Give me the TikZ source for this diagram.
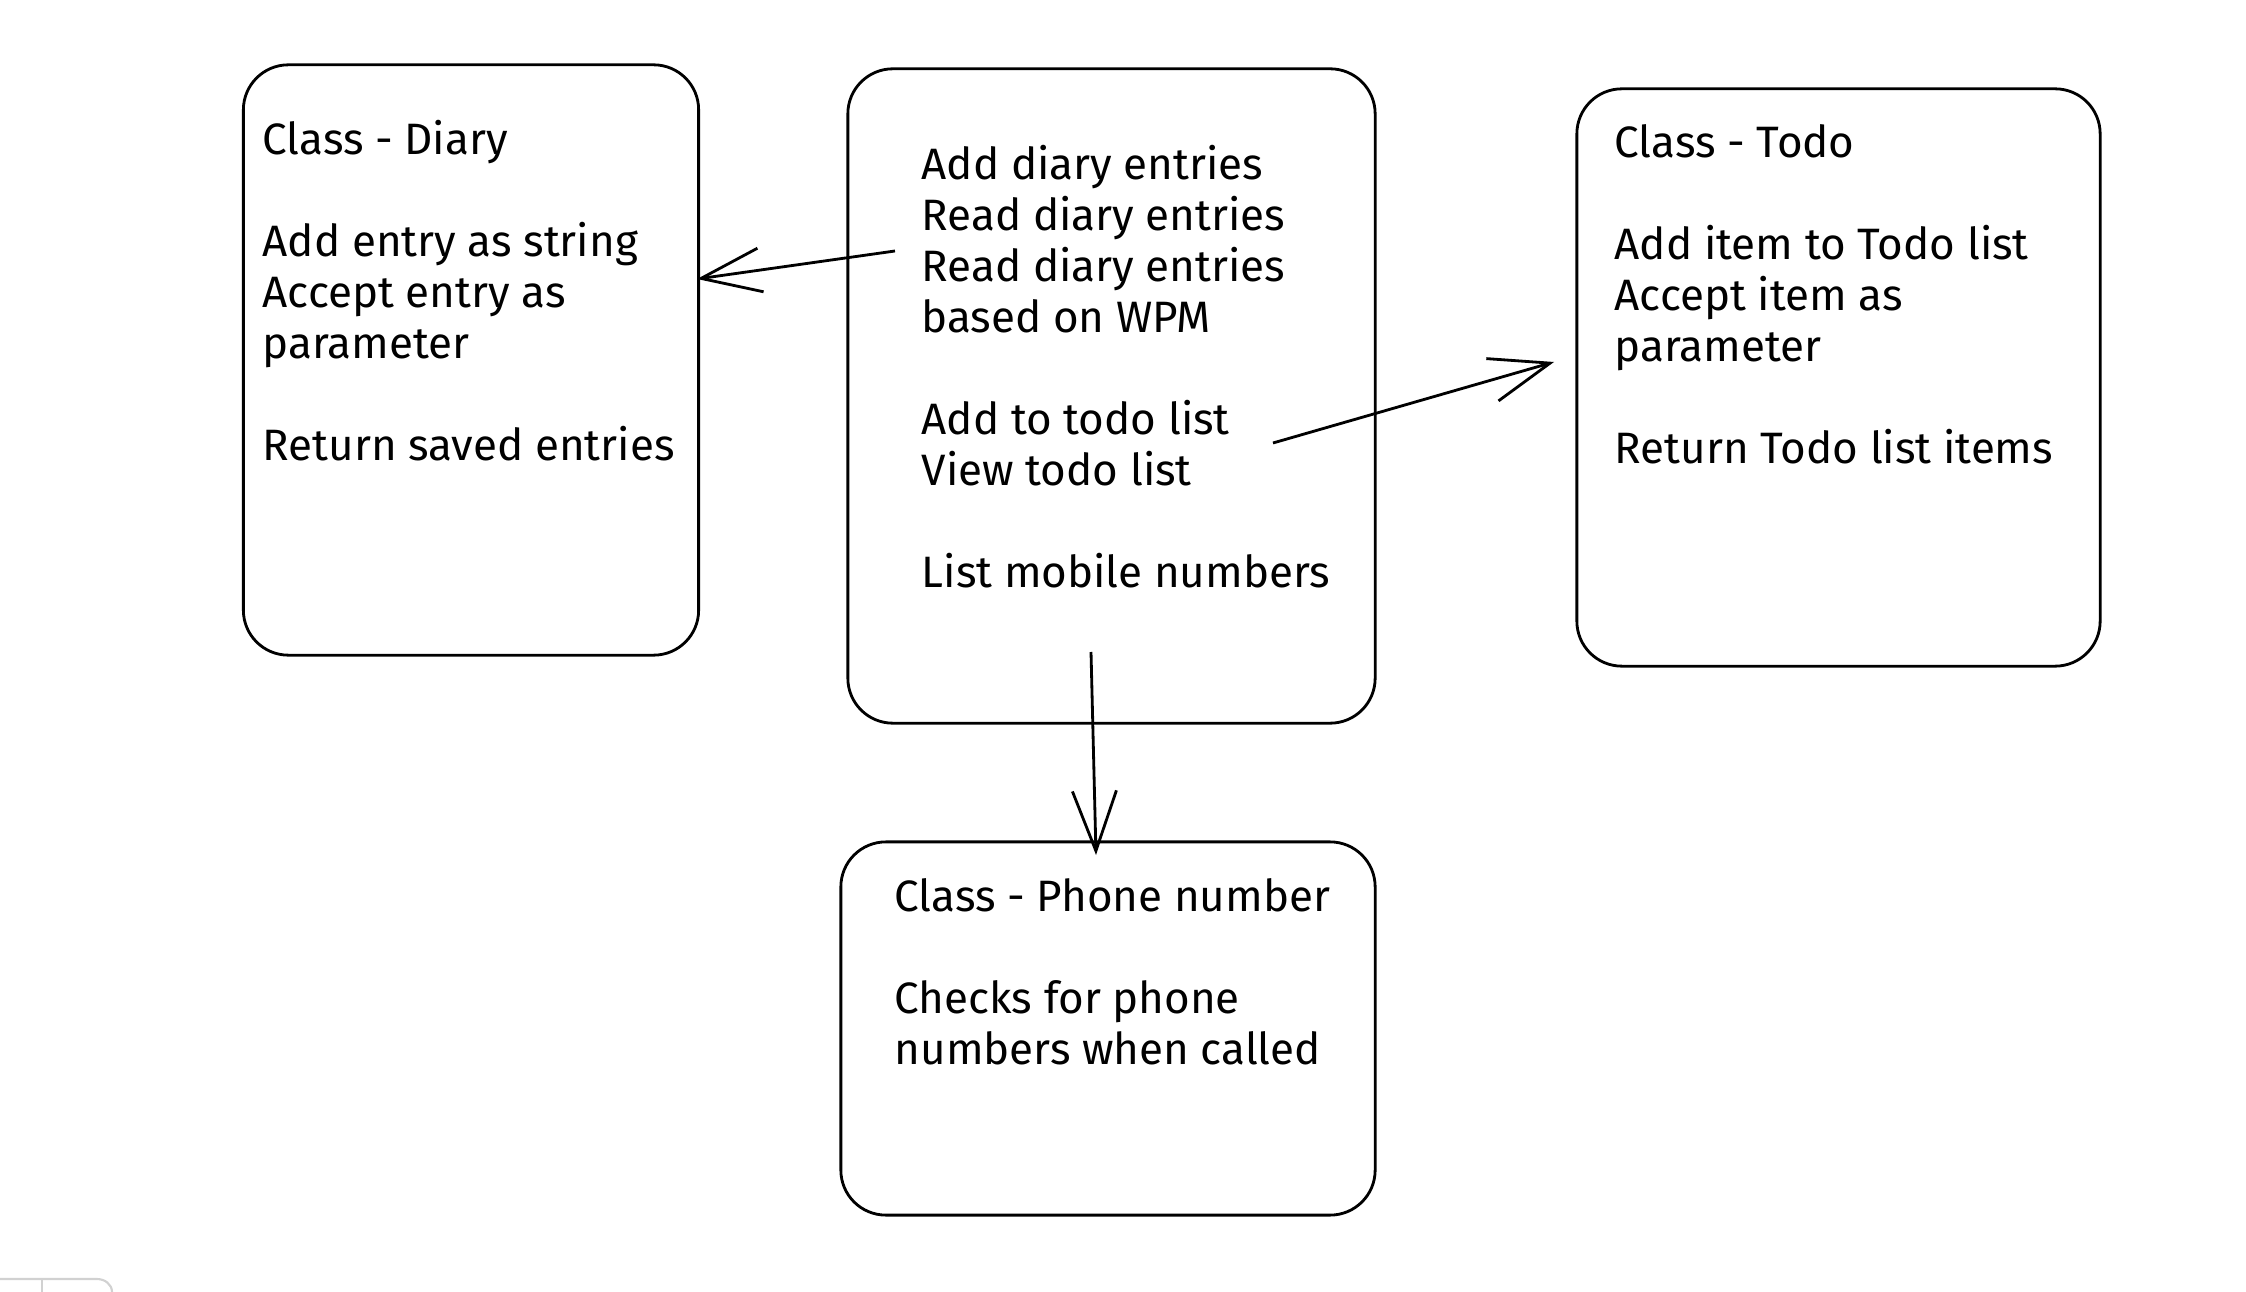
\documentclass[tikz,border=0pt]{standalone}
\usepackage{fontspec}
\setmainfont{Fira Sans}
\usetikzlibrary{arrows.meta}
\begin{document}
\begin{tikzpicture}[x=0.01cm,y=-0.01cm,
  box/.style={draw, line width=0.8pt, rounded corners=0.45cm, inner sep=0pt},
  txt/.style={anchor=north west, align=left, inner sep=0pt, font=\fontsize{12.5}{14.5}\selectfont},
  arr/.style={line width=0.8pt, -{Straight Barb[length=0.6cm,width=0.44cm]}},
  ui/.style={draw=black!18, line width=0.6pt}]
\useasboundingbox[fill=white] (0,0) rectangle (2246,1292);

% boxes
\node[box, minimum width=4.55cm, minimum height=5.90cm] (diary) at (471,360) {};
\node[box, minimum width=5.27cm, minimum height=6.54cm] (main) at (1111.5,396) {};
\node[box, minimum width=5.23cm, minimum height=5.77cm] (todo) at (1838.5,377.5) {};
\node[box, minimum width=5.34cm, minimum height=3.73cm] (phone) at (1108,1028.5) {};

% texts
\node[txt] (tdiary) at (262,120) {Class - Diary\\[14.5pt]Add entry as string\\Accept entry as\\parameter\\[14.5pt]Return saved entries};
\node[txt] (tmain) at (921,145) {Add diary entries\\Read diary entries\\Read diary entries\\based on WPM\\[14.5pt]Add to todo list\\View todo list\\[14.5pt]List mobile numbers};
\node[txt] (ttodo) at (1614,124) {Class - Todo\\[14.5pt]Add item to Todo list\\Accept item as\\parameter\\[14.5pt]Return Todo list items};
\node[txt] (tphone) at (894,878) {Class - Phone number\\[14.5pt]Checks for phone\\numbers when called};

% connector end points
\coordinate (s1) at (895,251);
\coordinate (e1) at (697,279);
\coordinate (s2) at (1273,443);
\coordinate (e2) at (1554,362);
\coordinate (s3) at (1091,652);
\coordinate (e3) at (1096,855);

\draw[arr] (s1) -- (e1);
\draw[arr] (s2) -- (e2);
\draw[arr] (s3) -- (e3);

% faint UI element at bottom left
\draw[ui] (0,1279) -- (97,1279) to[out=0,in=90] (112,1292);
\draw[ui] (42,1279) -- (42,1292);
\end{tikzpicture}
\end{document}
